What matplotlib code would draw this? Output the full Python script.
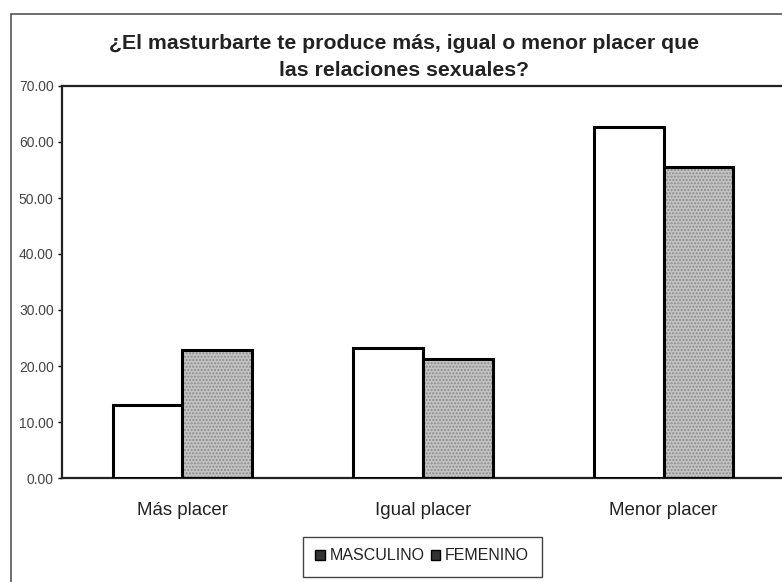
import matplotlib
matplotlib.use('Agg')
import matplotlib.pyplot as plt
from matplotlib.patches import Patch, Rectangle
import numpy as np

plt.rcParams['font.family'] = ['Liberation Sans', 'DejaVu Sans']

categories = ['Más placer', 'Igual placer', 'Menor placer']
masculino = [13.1, 23.3, 62.7]
femenino = [22.9, 21.2, 55.6]
yticks = [0, 10, 20, 30, 40, 50, 60, 70]
title = '¿El masturbarte te produce más, igual o menor placer que\nlas relaciones sexuales?'

fig = plt.figure(figsize=(7.82, 5.82), dpi=100)
W, H = 782, 582
# outer chart frame
fig.patches.append(Rectangle((11 / W, -0.02), 1.2, 1.02 - 14 / H, transform=fig.transFigure,
                             fill=False, edgecolor='#555555', linewidth=1.2))

ax = fig.add_axes([62 / W, 1 - 478 / H, 722 / W, 392 / H])

x = np.arange(len(categories))
w = 0.29
ax.bar(x - w / 2, masculino, w, color='white', edgecolor='black', linewidth=2.2, zorder=3)
ax.bar(x + w / 2, femenino, w, color='#c4c4c4', edgecolor='#8a8a8a', linewidth=0,
       hatch='.....', zorder=3)
ax.bar(x + w / 2, femenino, w, fill=False, edgecolor='black', linewidth=2.2, zorder=4)

ax.set_xlim(-0.5, 2.5)
ax.set_ylim(0, 70)
ax.set_yticks(yticks)
ax.set_yticklabels(['%.2f' % v for v in yticks], fontsize=10, color='#444444')
ax.tick_params(axis='y', length=3, width=1, pad=3)
ax.set_xticks(x)
ax.set_xticklabels(categories, fontsize=13.4, color='#222222')
ax.tick_params(axis='x', length=0, pad=17)
for s in ax.spines.values():
    s.set_linewidth(1.6)
    s.set_color('#222222')

fig.text(0.5 + 13 / W, 1 - 57 / H, title, ha='center', va='center', fontsize=15.3,
         fontweight='bold', color='#222222', linespacing=1.55)

handles = [Patch(facecolor='#333333', edgecolor='black', label='MASCULINO'),
           Patch(facecolor='#333333', edgecolor='black', label='FEMENINO')]
leg = fig.legend(handles=handles, loc='center', bbox_to_anchor=(422 / W, 1 - 556 / H),
                 ncol=2, fontsize=11.5, frameon=False, handlelength=0.6,
                 handleheight=0.6, handletextpad=0.3, columnspacing=0.4,
                 borderpad=0.45)
for t in leg.get_texts():
    t.set_color('#222222')
fig.patches.append(Rectangle((303 / W, 1 - 577 / H), 239 / W, 40 / H,
                             transform=fig.transFigure, fill=False,
                             edgecolor='#444444', linewidth=1.0))

fig.savefig('out.png', dpi=100)
